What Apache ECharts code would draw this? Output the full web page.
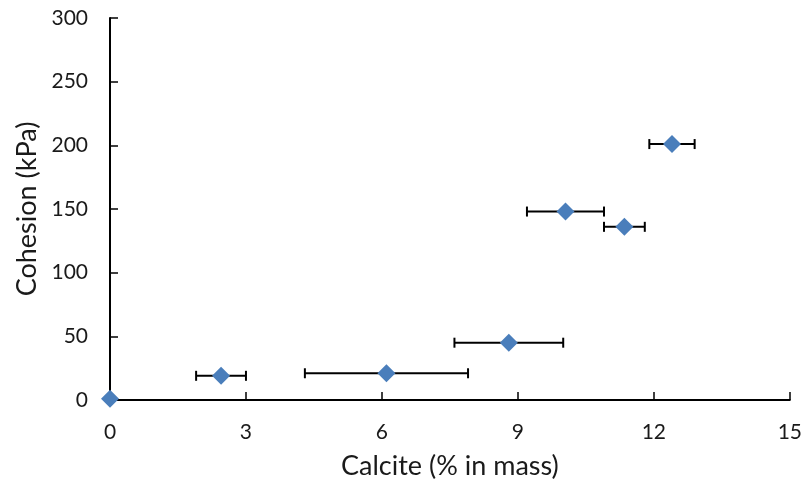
<!DOCTYPE html>
<html>
<head>
<meta charset="utf-8">
<script src="https://cdn.jsdelivr.net/npm/echarts@6/dist/echarts.min.js"></script>
<style>
  html, body { margin: 0; padding: 0; background: #fff; }
  #chart { width: 805px; height: 489px; }
</style>
</head>
<body>
<div id="chart"></div>
<script>
// Calcite content (% in mass) and measured cohesion (kPa)
const calcite = [0, 2.45, 6.1, 8.8, 10.05, 11.35, 12.4];
const cohesion = [1, 19, 21, 45, 148, 136, 201];
// Horizontal error bar extents for calcite content
const calciteLow = [null, 1.9, 4.3, 7.6, 9.2, 10.9, 11.9];
const calciteHigh = [null, 3.0, 7.9, 10.0, 10.9, 11.8, 12.9];

const xTicks = [0, 3, 6, 9, 12, 15];
const yTicks = [0, 50, 100, 150, 200, 250, 300];

const pointData = calcite.map((x, i) => [x, cohesion[i]]);
const errData = calcite
  .map((x, i) => [calciteLow[i], calciteHigh[i], cohesion[i]])
  .filter(d => d[0] !== null);

const font = 'Lato, "Open Sans", sans-serif';
const chart = echarts.init(document.getElementById('chart'));

chart.setOption({
  animation: false,
  grid: { left: 110, right: 15, top: 18, bottom: 89 },
  xAxis: {
    type: 'value',
    min: xTicks[0],
    max: xTicks[xTicks.length - 1],
    interval: 3,
    name: 'Calcite (% in mass)',
    nameLocation: 'middle',
    nameGap: 53,
    nameTextStyle: { fontFamily: font, fontSize: 27, color: '#1a1a1a' },
    axisLine: { lineStyle: { color: '#000', width: 2 } },
    axisTick: { inside: true, length: 8, lineStyle: { color: '#000', width: 1.5 } },
    axisLabel: { fontFamily: font, fontSize: 21, color: '#1a1a1a', margin: 22 },
    splitLine: { show: false }
  },
  yAxis: {
    type: 'value',
    min: yTicks[0],
    max: yTicks[yTicks.length - 1],
    interval: 50,
    name: 'Cohesion (kPa)',
    nameLocation: 'middle',
    nameGap: 68,
    nameTextStyle: { fontFamily: font, fontSize: 27, color: '#1a1a1a' },
    axisLine: { show: true, lineStyle: { color: '#000', width: 2 } },
    axisTick: { show: true, inside: true, length: 8, lineStyle: { color: '#000', width: 1.5 } },
    axisLabel: { fontFamily: font, fontSize: 21, color: '#1a1a1a', margin: 22 },
    splitLine: { show: false }
  },
  series: [
    {
      type: 'custom',
      data: errData,
      renderItem: function (params, api) {
        const y = api.value(2);
        const p1 = api.coord([api.value(0), y]);
        const p2 = api.coord([api.value(1), y]);
        const h = 5;
        const style = { stroke: '#000', lineWidth: 2 };
        return {
          type: 'group',
          children: [
            { type: 'line', shape: { x1: p1[0], y1: p1[1], x2: p2[0], y2: p2[1] }, style },
            { type: 'line', shape: { x1: p1[0], y1: p1[1] - h, x2: p1[0], y2: p1[1] + h }, style },
            { type: 'line', shape: { x1: p2[0], y1: p2[1] - h, x2: p2[0], y2: p2[1] + h }, style }
          ]
        };
      },
      z: 1
    },
    {
      type: 'scatter',
      data: pointData,
      symbol: 'diamond',
      symbolSize: [18, 18],
      itemStyle: { color: '#4a7ebb', opacity: 1 },
      z: 2
    }
  ]
});
</script>
</body>
</html>
